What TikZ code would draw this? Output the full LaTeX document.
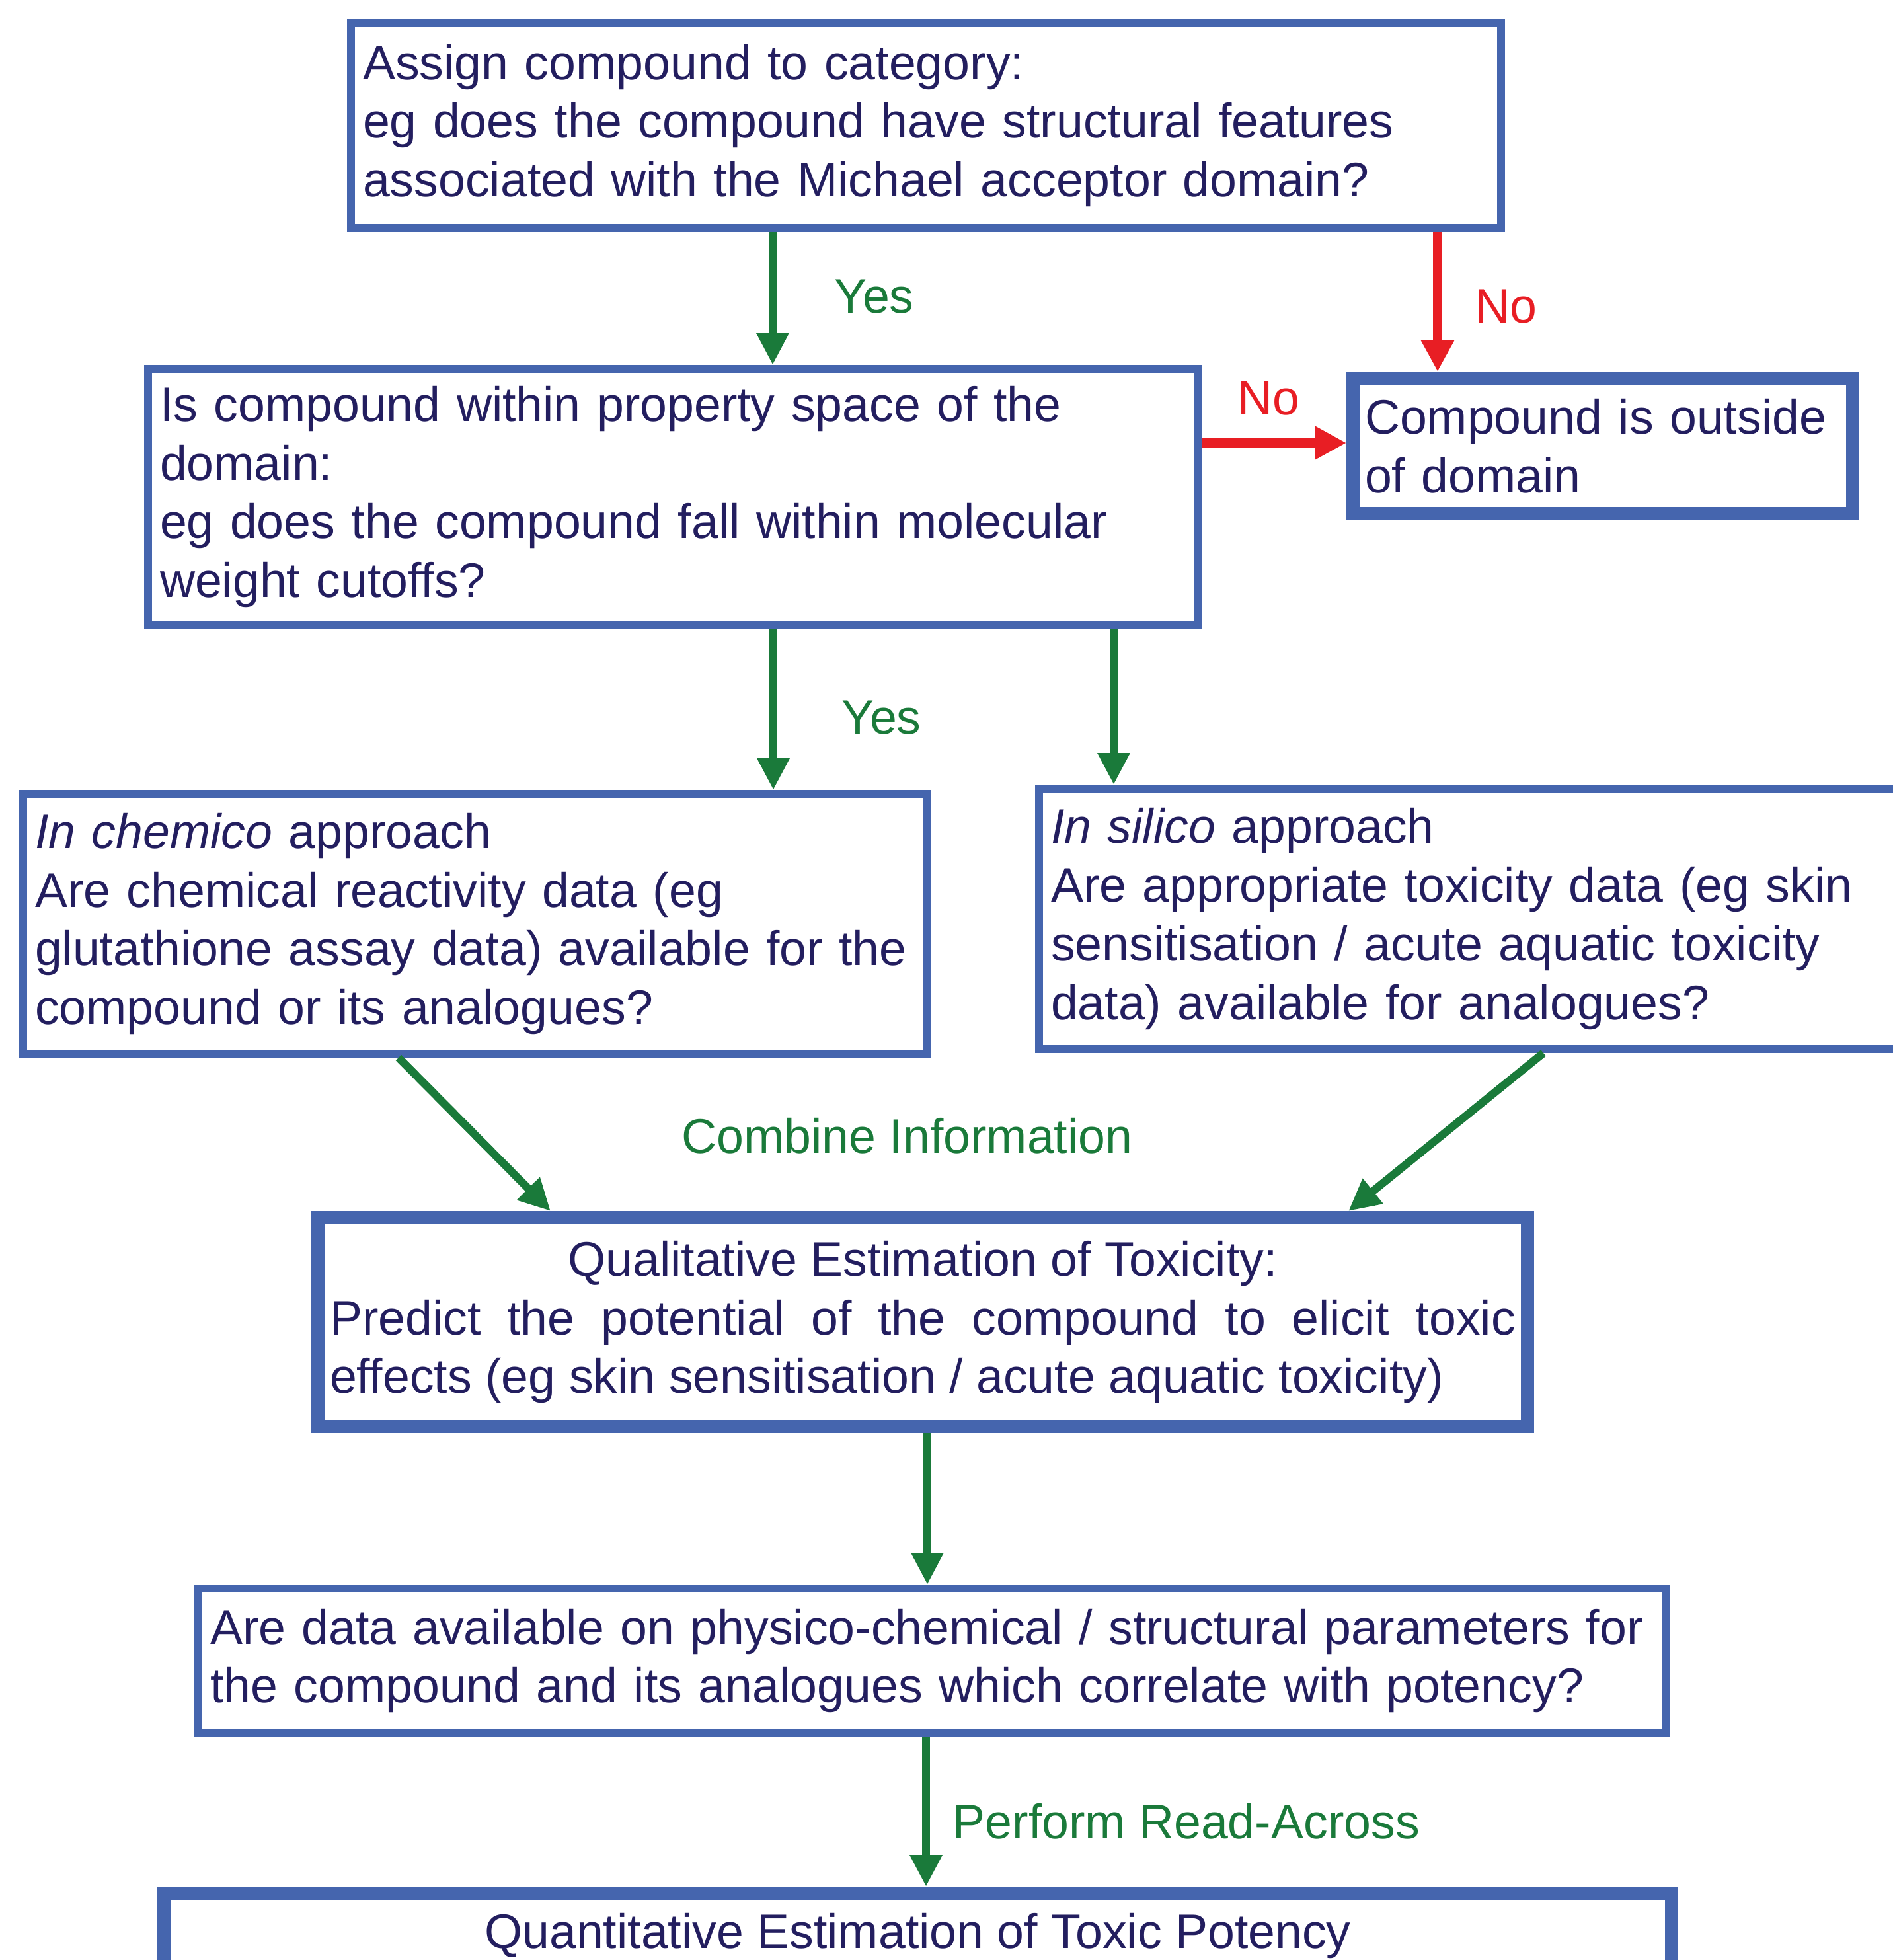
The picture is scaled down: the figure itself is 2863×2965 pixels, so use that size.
\documentclass[tikz,border=0pt]{standalone}
\usepackage{fontspec}
\setmainfont{Liberation Sans}
\usetikzlibrary{arrows.meta}
\definecolor{boxblue}{RGB}{69,101,174}
\definecolor{textnavy}{RGB}{35,30,95}
\definecolor{yesgreen}{RGB}{26,122,58}
\definecolor{nored}{RGB}{232,30,36}

\begin{document}
\begin{tikzpicture}[x=0.1mm, y=-0.1mm,
  every node/.style={font=\fontsize{20.9}{25.3}\selectfont, text=textnavy},
  box/.style={draw=boxblue, line width=1.2mm, inner xsep=1.8mm, inner ysep=0pt, align=left},
  thickbox/.style={box, line width=2mm},
  yes/.style={draw=yesgreen, line width=1.2mm, -{Triangle[length=4.8mm,width=4.6mm]}},
  no/.style={draw=nored, line width=1.4mm, -{Triangle[length=4.8mm,width=4.8mm]}},
  lbl/.style={inner sep=0pt, anchor=base west}]
\useasboundingbox (0,0) rectangle (2863,2965);
%% boxes
\node (assign) [box, minimum width=174mm, minimum height=31mm, text width=170.4mm] at (1401,190)
  {Assign compound to category:\\eg does the compound have structural features\\associated with the Michael acceptor domain?};
\node (prop) [box, minimum width=158.9mm, minimum height=38.7mm, text width=155.3mm] at (1018.5,751.5)
  {Is compound within property space of the\\domain:\\eg does the compound fall within molecular\\weight cutoffs?};
\node (outside) [thickbox, minimum width=75.6mm, minimum height=20.5mm, text width=72mm] at (2425,674.5)
  {Compound is outside\\of domain};
\node (chemico) [box, minimum width=136.8mm, minimum height=39.3mm, text width=133.2mm] at (719,1397.5)
  {\textit{In chemico} approach\\Are chemical reactivity data (eg\\glutathione assay data) available for the\\compound or its analogues?};
\node (silico) [box, minimum width=136.8mm, minimum height=39.4mm, text width=133.2mm] at (2256,1390)
  {\textit{In silico} approach\\Are appropriate toxicity data (eg skin\\sensitisation / acute aquatic toxicity\\data) available for analogues?};
\node (qual) [thickbox, minimum width=183mm, minimum height=31.6mm, text width=179.4mm, align=justify] at (1396,2000)
  {\hfil Qualitative Estimation of Toxicity:\hfil\break Predict the potential of the compound to elicit toxic\linebreak effects (eg skin sensitisation / acute aquatic toxicity)};
\node (physchem) [box, minimum width=222.1mm, minimum height=21.9mm, text width=218.5mm] at (1410.5,2512.5)
  {Are data available on physico-chemical / structural parameters for\\the compound and its analogues which correlate with potency?};
\node (quant) [thickbox, anchor=north, minimum width=228.1mm, align=center, inner ysep=2.2mm, text height=6.1mm, text depth=20mm] at (1388.5,2854)
  {Quantitative Estimation of Toxic Potency};
%% arrows
\foreach \from/\to/\x in {assign/prop/1169, prop/chemico/1170, prop/silico/1685, qual/physchem/1403, physchem/quant/1401}
  \draw [yes] (\from.south -| \x,0) -- (\to.north -| \x,0);
\draw [yes] (chemico.south -| 603,0) -- (qual.north -| 833,0);
\draw [yes] (silico.south -| 2335,0) -- (qual.north -| 2040,0);
\draw [no] (assign.south -| 2175,0) -- (outside.north -| 2175,0);
\draw [no] (prop.east |- 0,670) -- (outside.west |- 0,670);
%% labels
\node (yesone) [lbl, text=yesgreen] at (1262,473) {Yes};
\node (yestwo) [lbl, text=yesgreen] at (1273,1110) {Yes};
\node (noone) [lbl, text=nored] at (2231,488) {No};
\node (notwo) [lbl, text=nored] at (1872,627) {No};
\node (combine) [lbl, text=yesgreen] at (1031,1744) {Combine Information};
\node (readacross) [lbl, text=yesgreen] at (1441,2781) {Perform Read-Across};
\end{tikzpicture}
\end{document}
